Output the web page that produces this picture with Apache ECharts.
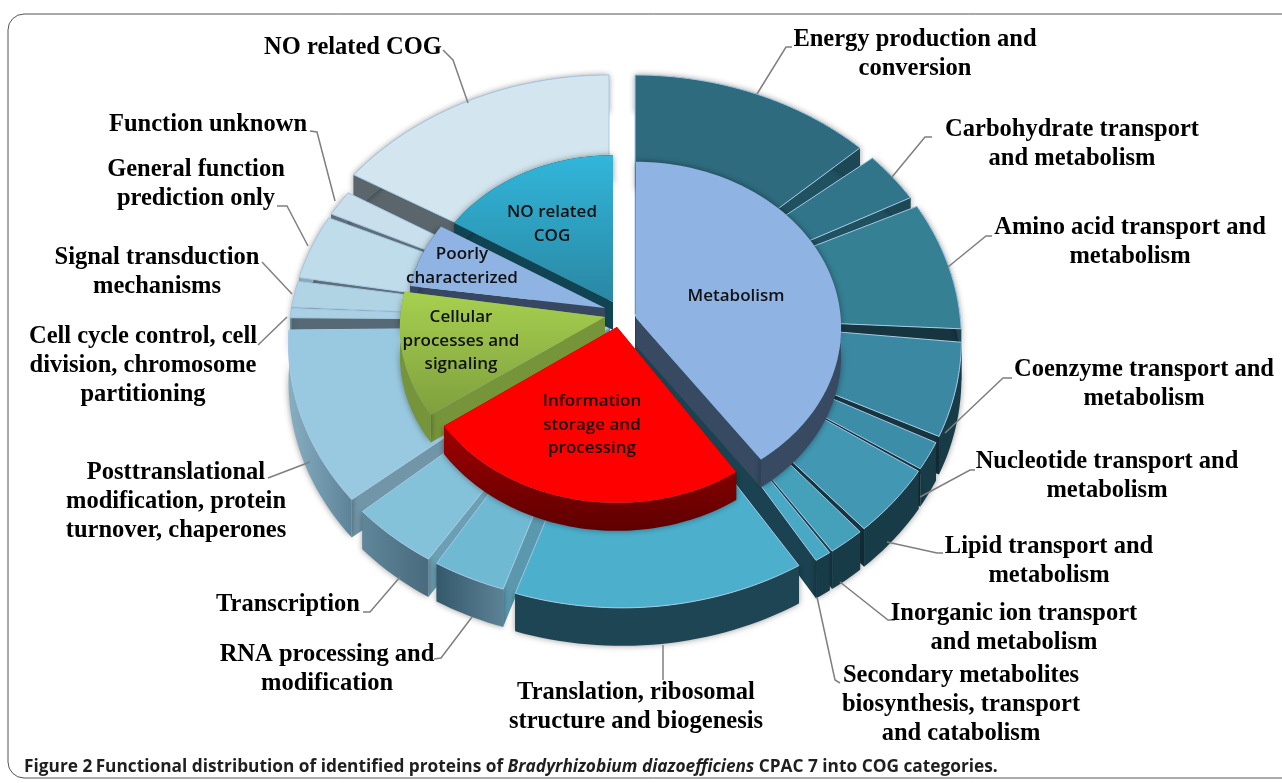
<!DOCTYPE html>
<html>
<head>
<meta charset="utf-8">
<title>COG categories</title>
<style>
html, body { margin: 0; padding: 0; background: #fff; }
#chart { width: 1282px; height: 783px; }
</style>
<script src="https://cdn.jsdelivr.net/npm/echarts@6/dist/echarts.min.js"></script>
</head>
<body>
<div id="chart"></div>
<script>
// values, as degrees of the ring
var outerNames = ['Energy production and conversion', 'Carbohydrate transport and metabolism', 'Amino acid transport and metabolism', 'Coenzyme transport and metabolism', 'Nucleotide transport and metabolism', 'Lipid transport and metabolism', 'Inorganic ion transport and metabolism', 'Secondary metabolites biosynthesis, transport and catabolism', 'Translation, ribosomal structure and biogenesis', 'RNA processing and modification', 'Transcription', 'Posttranslational modification, protein turnover, chaperones', 'Cell cycle control, cell division, chromosome partitioning', 'Signal transduction mechanisms', 'General function prediction only', 'Function unknown', 'NO related COG'];
var outerValues = [47.4, 11.5, 28.5, 20.4, 6, 14.8, 6, 2.7, 47.4, 12.1, 14.7, 38.5, 2.1, 5.8, 14.6, 5.8, 55.8];
var innerNames = ['Metabolism', 'Information storage and processing', 'Cellular processes and signaling', 'Poorly characterized', 'NO related COG'];
var innerValues = [144.5, 88.3, 43.6, 23.6, 58.4];

// look of the rings
function sideFade(left, right) {
    return { type: 'linear', x: 0, y: 0, x2: 1, y2: 0, colorStops: [{ offset: 0, color: left }, { offset: 1, color: right }] };
}
function downFade(top, bottom) {
    return { type: 'linear', x: 0, y: 0, x2: 0, y2: 1, colorStops: [{ offset: 0, color: top }, { offset: 1, color: bottom }] };
}
var outerGaps = [3.3, 2.3, 2.9, 1.4, 0.6, 0.9, 0.5, 0.8, -0.2, 1.6, 3.7, 2.7, 0.3, 0.9, 1, 3.2, 0];
var innerGaps = [1.9, 0.6, -0.9, 0, 0];
var outerCentres = [[635, 315], [635, 315], [635, 315], [635, 315], [635, 315], [635, 315], [635, 315], [635, 315], [622, 318], [607, 318], [607, 318], [610, 320], [610, 320], [610, 320], [610, 320], [610, 320], [609, 315]];
var outerApexDrop = [0, 0, 0, 0, 0, 0, 0, 0, 20, 19, 19, 7, 0, 0, 0, 0, -20];
var outerRadius = [1, 1, 1, 1, 1, 1, 1, 1, 1, 0.985, 0.985, 0.985, 0.985, 0.985, 0.985, 0.985, 1];
var innerCentres = [[636, 318], [617, 327], [605, 317], [605, 308], [613, 302]];
var innerRadius = [0.63, 0.63, 0.63, 0.61, 0.59];
var outerFaces = ['#2e6b7e', '#31758a', '#358093', '#3a88a1', '#3c8ea8', '#4298b3', '#45a0ba', '#49a8c4', '#4cb0cc', '#6fb9d3', '#84c2d9', '#99c9e0', '#a9d0e3', '#b1d4e5', '#bfdcea', '#c9e0ec', '#d3e5ef'];
var outerRims = ['#1c4855', '#1c4855', '#1c4855', '#173c48', '#173c48', '#173c48', '#173c48', '#173c48', '#1e4553', sideFade('#33596b', '#5d8296'), sideFade('#5f8699', '#486b7d'), sideFade('#88aec2', '#5c8398'), '#6b95ab', '#7a9fb2', '#8aa8b8', '#5f6f78', '#5a666b'];
var outerStrips = ['#1f5160', '#1f5160', '#17353f', '#17353f', '#17353f', '#17353f', '#1a4250', '#1a4250', '#1e4553', '#5a98ae', '#6b9fb3', '#7096a8', '#566a75', '#5f6f78', '#5f6f78', '#5f6f78', '#5a666b'];
var innerFaces = ['#8fb4e3', '#ff0000', downFade('#a7d04f', '#7f9f3e'), '#8fb4e3', downFade('#31b6da', '#2a87a3')];
var innerWalls = ['#374a62', downFade('#a00000', '#5e0000'), '#76953a', '#374661', '#114452'];

var RX = 325, RY = 262.6, PERSPECTIVE = 0.094;

function startAngles(values, gaps) {
    var angles = [], a = 0;
    for (var i = 0; i < values.length; i++) {
        angles.push(a);
        a += values[i] + gaps[i];
    }
    return angles;
}
var outerStarts = startAngles(outerValues, outerGaps);
var innerStarts = startAngles(innerValues, innerGaps);

// a point of the tilted disc on screen, angle clockwise from the top
function disc(centre, angle, r, drop) {
    var rad = angle * Math.PI / 180;
    var u = Math.sin(rad) * r, v = -Math.cos(rad) * r;
    var s = 1 / (1 - PERSPECTIVE * v);
    return [centre[0] + RX * u * s, centre[1] + RY * v * s + (drop || 0)];
}

function arc(centre, from, to, r, drop) {
    var pts = [], n = Math.max(2, Math.ceil((to - from) / 1.5));
    for (var i = 0; i <= n; i++) {
        pts.push(disc(centre, from + (to - from) * i / n, r, drop));
    }
    return pts;
}

function slice(o) {
    var rim = arc(o.centre, o.from, o.to, o.r, 0);
    var rimLow = arc(o.centre, o.from, o.to, o.r, o.depth).reverse();
    var apex = disc(o.centre, 0, 0, o.apexDrop);
    var apexLow = disc(o.centre, 0, 0, o.apexDrop + o.depth);
    var first = rim[0], last = rim[rim.length - 1];
    var order = Math.round((1 - Math.cos((o.from + o.to) / 2 * Math.PI / 180)) * 1000);
    var shade = { shadowBlur: 6, shadowColor: 'rgba(0,0,0,0.4)' };
    return {
        type: 'group',
        children: [
            { type: 'polygon', z2: order, shape: { points: [apex, first, [first[0], first[1] + o.depth], apexLow] }, style: { fill: o.strip } },
            { type: 'polygon', z2: order, shape: { points: [apex, last, [last[0], last[1] + o.depth], apexLow] }, style: { fill: o.strip } },
            { type: 'polygon', z2: order + 1, shape: { points: rim.concat(rimLow) }, style: Object.assign({ fill: o.wall }, shade) },
            { type: 'polygon', z2: order + 2, shape: { points: [apex].concat(rim) }, style: { fill: o.face, stroke: o.stroke, lineWidth: o.stroke ? 1 : 0 } }
        ]
    };
}

function renderOuter(params, api) {
    var i = params.dataIndex;
    return slice({
        centre: outerCentres[i], apexDrop: outerApexDrop[i], from: outerStarts[i], to: outerStarts[i] + api.value(0), r: outerRadius[i], depth: 38,
        face: outerFaces[i], wall: outerRims[i], strip: outerStrips[i], stroke: '#a6c8e6'
    });
}

function renderInner(params, api) {
    var i = params.dataIndex;
    return slice({
        centre: innerCentres[i], apexDrop: 0, from: innerStarts[i], to: innerStarts[i] + api.value(0), r: innerRadius[i], depth: 28,
        face: innerFaces[i], wall: innerWalls[i], strip: innerWalls[i]
    });
}

// outside labels: text, centre of the block, leader line
var outerLabels = [
    ['Energy production and\nconversion', 915, 54.5, [[757, 94], [786, 47], [792, 47]]],
    ['Carbohydrate transport\nand metabolism', 1072, 144.5, [[892, 177], [925, 137], [932, 137]]],
    ['Amino acid transport and\nmetabolism', 1130, 242.5, [[948, 267], [986, 236], [992, 236]]],
    ['Coenzyme transport and\nmetabolism', 1144, 384.5, [[945, 433], [1003, 378], [1012, 378]]],
    ['Nucleotide transport and\nmetabolism', 1107, 476.5, [[920, 497], [970, 470], [975, 470]]],
    ['Lipid transport and\nmetabolism', 1049, 561.5, [[887, 542], [937, 553], [943, 553]]],
    ['Inorganic ion transport\nand metabolism', 1014, 628.5, [[840, 582], [888, 620], [895, 620]]],
    ['Secondary metabolites\nbiosynthesis, transport\nand catabolism', 961, 704.5, [[817, 597], [835, 680], [840, 683]]],
    ['Translation, ribosomal\nstructure and biogenesis', 636, 707.5, [[663, 645], [663, 680]]],
    ['RNA processing and\nmodification', 327, 669.5, [[472, 617], [441, 658], [434, 659]]],
    ['Transcription', 288, 604.5, [[400, 577], [370, 612], [363, 612]]],
    ['Posttranslational\nmodification, protein\nturnover, chaperones', 176, 501.5, [[310, 462], [268, 478]]],
    ['Cell cycle control, cell\ndivision, chromosome\npartitioning', 143, 365.5, [[287, 317], [258, 345]]],
    ['Signal transduction\nmechanisms', 157, 272.5, [[292, 294], [262, 262]]],
    ['General function\nprediction only', 196, 184.5, [[308, 246], [287, 206], [277, 206]]],
    ['Function unknown', 208, 124.5, [[335, 201], [317, 132], [310, 131]]],
    ['NO related COG', 353, 47.5, [[468, 103], [453, 60], [443, 50]]]
];
var innerLabels = [
    ['Metabolism', 736, 296],
    ['Information\nstorage and\nprocessing', 592, 425],
    ['Cellular\nprocesses and\nsignaling', 461, 341],
    ['Poorly\ncharacterized', 462, 266],
    ['NO related\nCOG', 552, 224]
];

var graphics = [
    { type: 'rect', z: 0, shape: { x: 8, y: 14, width: 1300, height: 764, r: 16 }, style: { fill: 'none', stroke: '#555555', lineWidth: 1 } },
    {
        type: 'text', z: 20, x: 24, y: 767,
        style: {
            text: '{b|Figure 2} {s|Functional distribution of identified proteins of }{i|Bradyrhizobium diazoefficiens}{s| CPAC 7 into COG categories.}',
            verticalAlign: 'middle',
            rich: {
                b: { font: 'bold 17.3px "Open Sans"', fill: '#1f1f1f' },
                s: { font: 'bold 17.3px "Open Sans"', fill: '#1f1f1f' },
                i: { font: 'italic bold 17.3px "Open Sans"', fill: '#1f1f1f' }
            }
        }
    }
];
outerLabels.forEach(function (item) {
    graphics.push({
        type: 'text', z: 20, x: item[1], y: item[2],
        style: { text: item[0], align: 'center', verticalAlign: 'middle', font: 'bold 24.5px "Liberation Serif"', lineHeight: 29, fill: '#000' }
    });
    graphics.push({
        type: 'polyline', z: 10, shape: { points: item[3] },
        style: { fill: 'none', stroke: '#7f7f7f', lineWidth: 1.5 }
    });
});
innerLabels.forEach(function (item) {
    graphics.push({
        type: 'text', z: 20, x: item[1], y: item[2],
        style: { text: item[0], align: 'center', verticalAlign: 'middle', font: '600 17px "Open Sans"', lineHeight: 23.5, fill: '#111' }
    });
});

var chart = echarts.init(document.getElementById('chart'));
chart.setOption({
    animation: false,
    backgroundColor: '#fff',
    graphic: graphics,
    series: [
        {
            type: 'custom', name: 'COG categories', coordinateSystem: 'none', z: 2, silent: true,
            renderItem: renderOuter,
            data: outerValues.map(function (v, i) { return { name: outerNames[i], value: [v] }; })
        },
        {
            type: 'custom', name: 'Functional groups', coordinateSystem: 'none', z: 3, silent: true,
            renderItem: renderInner,
            data: innerValues.map(function (v, i) { return { name: innerNames[i], value: [v] }; })
        }
    ]
});
</script>
</body>
</html>
